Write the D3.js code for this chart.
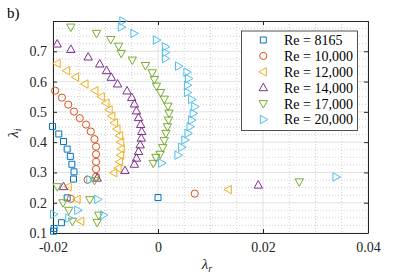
<!DOCTYPE html>
<html><head><meta charset="utf-8">
<script src="https://cdn.jsdelivr.net/npm/d3@7"></script>
<style>body{margin:0;background:#fff}svg{display:block}</style>
</head><body><svg id="c" width="407" height="277"></svg>
<script>
// ---- data ----
const xTicks = [-0.02, 0, 0.02, 0.04];
const xTickLabels = ["-0.02", "0", "0.02", "0.04"];
const yTicks = [0.1, 0.2, 0.3, 0.4, 0.5, 0.6, 0.7];
const yTickLabels = ["0.1", "0.2", "0.3", "0.4", "0.5", "0.6", "0.7"];
const seriesNames = ["Re = 8165", "Re = 10,000", "Re = 12,000", "Re = 14,000", "Re = 17,000", "Re = 20,000"];
const seriesColors = ["#0072BD", "#D95319", "#EDB120", "#7E2F8E", "#77AC30", "#4DBEEE"];
const seriesMarkers = ["square", "circle", "left", "up", "down", "right"];

const lr8165 = [-0.0201,-0.0189,-0.0180,-0.0173,-0.0167,-0.0164,-0.0160,-0.0161,-0.0173,-0.0184,-0.0198,-0.0199,0.0000];
const li8165 = [0.452,0.427,0.402,0.377,0.353,0.327,0.302,0.278,0.216,0.134,0.115,0.106,0.217];

const lr10000 = [-0.0196,-0.0183,-0.0171,-0.0160,-0.0149,-0.0137,-0.0128,-0.0121,-0.0118,-0.0118,-0.0118,-0.0118,-0.0118,-0.0134,-0.0166,0.0070];
const li10000 = [0.570,0.547,0.524,0.501,0.479,0.458,0.435,0.410,0.385,0.360,0.335,0.311,0.286,0.276,0.213,0.230];

const lr12000 = [-0.0192,-0.0174,-0.0157,-0.0139,-0.0120,-0.0108,-0.0099,-0.0093,-0.0088,-0.0083,-0.0078,-0.0073,-0.0071,-0.0070,-0.0071,-0.0073,-0.0076,-0.0084,-0.0171,-0.0154,-0.0147,0.0134];
const li12000 = [0.660,0.636,0.615,0.592,0.570,0.550,0.529,0.507,0.486,0.464,0.443,0.421,0.400,0.378,0.357,0.335,0.314,0.299,0.253,0.211,0.139,0.2435];

const lr14000 = [-0.0192,-0.0166,-0.0133,-0.0111,-0.0098,-0.0089,-0.0077,-0.0059,-0.0050,-0.0045,-0.0041,-0.0037,-0.0033,-0.0031,-0.0032,-0.0034,-0.0037,-0.0041,-0.0045,-0.0063,-0.0116,-0.0180,0.0191];
const li14000 = [0.724,0.706,0.681,0.658,0.636,0.614,0.592,0.569,0.547,0.526,0.503,0.481,0.458,0.435,0.413,0.391,0.369,0.347,0.327,0.306,0.281,0.253,0.258];

const lr17000 = [-0.0166,-0.0117,-0.0090,-0.0075,-0.0070,-0.0049,-0.0024,-0.0011,-0.0007,-0.0003,0.0005,0.0012,0.0019,0.0021,0.0020,0.0018,0.0015,0.0012,0.0009,0.0004,-0.0004,-0.0009,-0.0121,-0.0192,-0.0181,-0.0170,-0.0163,-0.0130,-0.0113,-0.0116,0.0269];
const li17000 = [0.780,0.759,0.739,0.717,0.693,0.671,0.653,0.629,0.607,0.585,0.564,0.542,0.519,0.496,0.473,0.451,0.429,0.405,0.382,0.360,0.350,0.330,0.274,0.253,0.200,0.175,0.139,0.210,0.159,0.135,0.269];

const lr20000 = [-0.0067,-0.0070,-0.0046,-0.0003,0.0014,0.0014,0.0014,0.0039,0.0055,0.0058,0.0056,0.0056,0.0064,0.0070,0.0067,0.0064,0.0061,0.0057,0.0051,0.0045,0.0038,0.0007,-0.0130,-0.0115,-0.0153,-0.0104,-0.0170,-0.0199,0.0339];
const li20000 = [0.800,0.780,0.759,0.737,0.715,0.696,0.676,0.651,0.631,0.610,0.588,0.564,0.541,0.517,0.495,0.473,0.451,0.429,0.407,0.383,0.357,0.331,0.276,0.211,0.175,0.159,0.149,0.162,0.285];

const seriesLr = [lr8165, lr10000, lr12000, lr14000, lr17000, lr20000];
const seriesLi = [li8165, li10000, li12000, li14000, li17000, li20000];

// ---- layout ----
const M = {left: 53, right: 368, top: 21, bottom: 233};
const FONT = "'Liberation Serif', 'DejaVu Serif', serif";
const AX = "#262626";
const svg = d3.select("#c");

const x = d3.scaleLinear().domain([-0.02, 0.04]).range([M.left, M.right]);
const y = d3.scaleLinear().domain([0.1, 0.8]).range([M.bottom, M.top]);

// grid
const g = svg.append("g");
const xMinor = d3.range(-0.02, 0.0401, 0.005).filter(v => !xTicks.some(t => Math.abs(t - v) < 1e-9));
const yMinor = d3.range(0.1, 0.8001, 0.025).filter(v => !yTicks.some(t => Math.abs(t - v) < 1e-9) && Math.abs(v-0.8)>1e-9);
g.selectAll(".xm").data(xMinor).join("line")
  .attr("x1", d => x(d)).attr("x2", d => x(d)).attr("y1", M.top).attr("y2", M.bottom)
  .attr("stroke", "#c4c4c4").attr("stroke-width", 0.8).attr("stroke-dasharray", "1,2");
g.selectAll(".ym").data(yMinor).join("line")
  .attr("y1", d => y(d)).attr("y2", d => y(d)).attr("x1", M.left).attr("x2", M.right)
  .attr("stroke", "#c4c4c4").attr("stroke-width", 0.8).attr("stroke-dasharray", "1,2");
g.selectAll(".xM").data(xTicks).join("line")
  .attr("x1", d => x(d)).attr("x2", d => x(d)).attr("y1", M.top).attr("y2", M.bottom)
  .attr("stroke", "#e2e2e2").attr("stroke-width", 1);
g.selectAll(".yM").data(yTicks).join("line")
  .attr("y1", d => y(d)).attr("y2", d => y(d)).attr("x1", M.left).attr("x2", M.right)
  .attr("stroke", "#e2e2e2").attr("stroke-width", 1);

// axes
function style(sel) {
  sel.select(".domain").attr("stroke", AX).attr("stroke-width", 1);
  sel.selectAll(".tick line").attr("stroke", AX);
  sel.selectAll("text").attr("fill", "#262626").style("font-family", FONT).style("font-size", "14px");
}
svg.append("g").attr("transform", `translate(0,${M.bottom})`)
  .call(d3.axisBottom(x).tickValues(xTicks).tickFormat((d, i) => xTickLabels[i]).tickSizeInner(-4).tickSizeOuter(0).tickPadding(9))
  .call(style);
svg.append("g").attr("transform", `translate(0,${M.top})`)
  .call(d3.axisTop(x).tickValues(xTicks).tickFormat("").tickSizeInner(-4).tickSizeOuter(0))
  .call(style);
svg.append("g").attr("transform", `translate(${M.left},0)`)
  .call(d3.axisLeft(y).tickValues(yTicks).tickFormat((d, i) => yTickLabels[i]).tickSizeInner(-4).tickSizeOuter(0).tickPadding(6))
  .call(style);
svg.append("g").attr("transform", `translate(${M.right},0)`)
  .call(d3.axisRight(y).tickValues(yTicks).tickFormat("").tickSizeInner(-4).tickSizeOuter(0))
  .call(style);

// markers
function markerPath(type) {
  switch (type) {
    case "square": return "M-3,-3H3V3H-3Z";
    case "up": return "M0,-4.5L4.2,3L-4.2,3Z";
    case "down": return "M0,4.5L4.2,-3L-4.2,-3Z";
    case "left": return "M-4.5,0L3,-4.2L3,4.2Z";
    case "right": return "M4.5,0L-3,-4.2L-3,4.2Z";
  }
}
function drawMarker(sel, type, color) {
  if (type === "circle") {
    sel.append("circle").attr("r", 3.6).attr("fill", "none").attr("stroke", color).attr("stroke-width", 1);
  } else {
    sel.append("path").attr("d", markerPath(type)).attr("fill", "none").attr("stroke", color).attr("stroke-width", 1);
  }
}
seriesNames.forEach((name, si) => {
  const pts = seriesLr[si].map((v, i) => [v, seriesLi[si][i]]);
  const gg = svg.append("g");
  gg.selectAll("g").data(pts).join("g")
    .attr("transform", d => `translate(${x(d[0])},${y(d[1])})`)
    .each(function () { drawMarker(d3.select(this), seriesMarkers[si], seriesColors[si]); });
});

// legend
const lg = svg.append("g");
lg.append("rect").attr("x", 241.5).attr("y", 31).attr("width", 116).attr("height", 99.5)
  .attr("fill", "#fff").attr("stroke", AX).attr("stroke-width", 0.8);
seriesNames.forEach((name, i) => {
  const ry = 40 + i * 15.9;
  const row = lg.append("g").attr("transform", `translate(263.3,${ry})`);
  drawMarker(row, seriesMarkers[i], seriesColors[i]);
  lg.append("text").attr("x", 284).attr("y", ry).attr("dy", "0.35em")
    .style("font-family", FONT).style("font-size", "14px").attr("fill", "#000").text(name);
});

// labels
svg.append("text").attr("x", 7).attr("y", 18).style("font-family", FONT).style("font-size", "15px").text("b)");
const xl = svg.append("text").attr("x", 207).attr("y", 269).attr("text-anchor", "middle")
  .style("font-family", FONT).style("font-size", "15px").attr("fill", "#262626");
xl.append("tspan").style("font-style", "italic").text("λ");
xl.append("tspan").attr("dy", 3).style("font-size", "10px").style("font-style", "italic").text("r");
const yl = svg.append("text").attr("transform", "translate(18,133) rotate(-90)").attr("text-anchor", "middle")
  .style("font-family", FONT).style("font-size", "15px").attr("fill", "#262626");
yl.append("tspan").style("font-style", "italic").text("λ");
yl.append("tspan").attr("dy", 3).style("font-size", "10px").style("font-style", "italic").text("i");
</script>
</body></html>
